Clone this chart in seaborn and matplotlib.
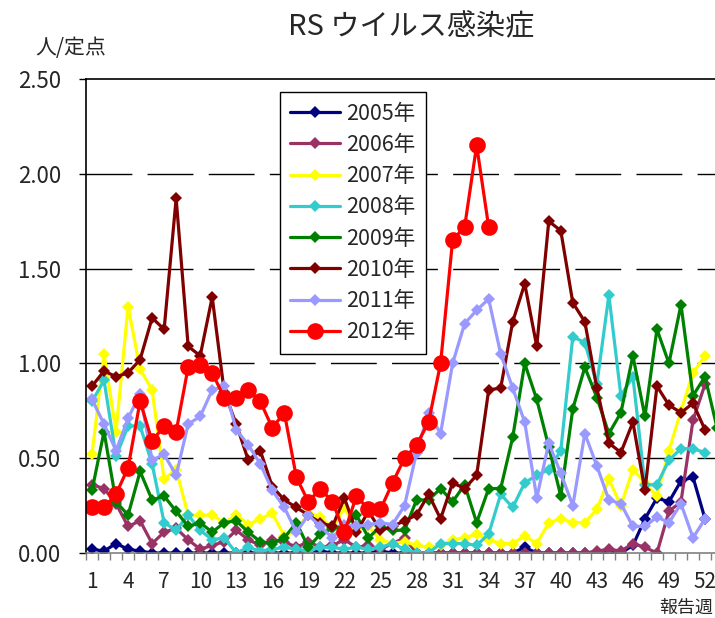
import numpy as np
import pandas as pd
import seaborn as sns
import matplotlib.pyplot as plt
from matplotlib.ticker import FixedLocator, FormatStrFormatter

# weekly values (人/定点)
y2005 = [0.02, 0.01, 0.05, 0.02, 0.01, 0, 0, 0, 0, 0,
         0, 0, 0, 0, 0, 0, 0, 0, 0, 0.01,
         0, 0, 0, 0, 0.01, 0, 0, 0, 0, 0,
         0, 0, 0, 0, 0, 0, 0.03, 0, 0, 0,
         0, 0, 0, 0, 0, 0.04, 0.18, 0.29, 0.27, 0.38,
         0.40, 0.18]
y2006 = [0.36, 0.34, 0.26, 0.14, 0.17, 0.05, 0.11, 0.13, 0.07, 0.02,
         0.04, 0.06, 0.12, 0.07, 0.04, 0.07, 0.06, 0.03, 0.06, 0.03,
         0.04, 0.07, 0.03, 0.04, 0.02, 0.05, 0.08, 0, 0, 0,
         0, 0, 0, 0, 0, 0, 0, 0, 0, 0,
         0, 0, 0.01, 0.02, 0.01, 0.05, 0.03, 0, 0.22, 0.27,
         0.70, 0.89]
y2007 = [0.52, 1.05, 0.64, 1.30, 0.97, 0.86, 0.39, 0.44, 0.20, 0.20,
         0.20, 0.16, 0.20, 0.15, 0.18, 0.21, 0.09, 0.12, 0.21, 0.19,
         0.13, 0.24, 0.12, 0.14, 0.07, 0.05, 0.06, 0.04, 0.03, 0.04,
         0.07, 0.08, 0.10, 0.07, 0.05, 0.05, 0.09, 0.05, 0.16, 0.18,
         0.16, 0.16, 0.23, 0.39, 0.25, 0.44, 0.37, 0.30, 0.54, 0.75,
         0.95, 1.04]
y2008 = [0.80, 0.91, 0.51, 0.67, 0.67, 0.47, 0.16, 0.12, 0.20, 0.12,
         0.07, 0.08, 0.00, 0.03, 0.01, 0.02, 0.03, 0.02, 0.01, 0.03,
         0.03, 0.02, 0.03, 0.02, 0.03, 0.05, 0.02, 0.00, 0.00, 0.05,
         0.05, 0.05, 0.04, 0.10, 0.31, 0.24, 0.37, 0.41, 0.44, 0.54,
         1.14, 1.11, 0.89, 1.36, 0.83, 0.93, 0.36, 0.36, 0.49, 0.55,
         0.55, 0.53]
y2009 = [0.33, 0.64, 0.27, 0.20, 0.43, 0.28, 0.30, 0.22, 0.14, 0.16,
         0.11, 0.16, 0.17, 0.11, 0.06, 0.05, 0.08, 0.16, 0.03, 0.10,
         0.13, 0.14, 0.20, 0.08, 0.14, 0.12, 0.12, 0.28, 0.28, 0.34,
         0.27, 0.36, 0.16, 0.34, 0.34, 0.61, 1.00, 0.81, 0.56, 0.30,
         0.76, 0.98, 0.82, 0.63, 0.74, 1.04, 0.72, 1.18, 1.00, 1.31,
         0.83, 0.93, 0.66]
y2010 = [0.88, 0.96, 0.93, 0.95, 1.02, 1.24, 1.18, 1.87, 1.09, 1.04,
         1.35, 0.85, 0.68, 0.49, 0.54, 0.35, 0.28, 0.24, 0.20, 0.16,
         0.14, 0.29, 0.11, 0.22, 0.12, 0.14, 0.17, 0.20, 0.31, 0.18,
         0.37, 0.34, 0.41, 0.86, 0.87, 1.22, 1.42, 1.09, 1.75, 1.70,
         1.32, 1.22, 0.87, 0.58, 0.53, 0.69, 0.33, 0.88, 0.78, 0.74,
         0.79, 0.65]
y2011 = [0.81, 0.68, 0.54, 0.71, 0.84, 0.49, 0.52, 0.41, 0.68, 0.72,
         0.86, 0.88, 0.65, 0.57, 0.47, 0.33, 0.24, 0.11, 0.20, 0.14,
         0.08, 0.15, 0.14, 0.15, 0.16, 0.15, 0.25, 0.53, 0.74, 0.63,
         1.00, 1.21, 1.28, 1.34, 1.05, 0.87, 0.69, 0.29, 0.58, 0.42,
         0.25, 0.63, 0.46, 0.28, 0.26, 0.14, 0.14, 0.19, 0.16, 0.26,
         0.08, 0.18]
y2012 = [0.24, 0.24, 0.31, 0.45, 0.80, 0.59, 0.67, 0.64, 0.98, 0.99,
         0.95, 0.82, 0.82, 0.86, 0.80, 0.66, 0.74, 0.40, 0.27, 0.34,
         0.27, 0.11, 0.30, 0.23, 0.23, 0.37, 0.50, 0.57, 0.69, 1.00,
         1.65, 1.72, 2.15, 1.72]

years = ["2005年", "2006年", "2007年", "2008年", "2009年", "2010年", "2011年", "2012年"]
series = [y2005, y2006, y2007, y2008, y2009, y2010, y2011, y2012]
colors = ["#000080", "#993366", "#FFFF00", "#33CCCC", "#008000", "#800000", "#9999FF", "#FF0000"]
tick_weeks = list(range(1, 53, 3))

rows = []
for name, vals in zip(years, series):
    for i, v in enumerate(vals):
        rows.append({"year": name, "week": i + 1, "value": v})
df = pd.DataFrame(rows)

sns.set_theme(style="white")
plt.rcParams["font.family"] = ["Noto Sans CJK JP", "DejaVu Sans"]

fig = plt.figure(figsize=(7.15, 6.18), dpi=100)
ax = fig.add_axes([86 / 715, 65 / 618, 1 - 86 / 715, 474 / 618])

for name, c in zip(years, colors):
    sub = df[df["year"] == name]
    big = name == "2012年"
    sns.lineplot(data=sub, x="week", y="value", ax=ax, color=c, label=name,
                 linewidth=2.3, marker="o" if big else "D",
                 markersize=12 if big else 6.0, markeredgewidth=0)

ax.set_xlim(0.5, 52.83)
ax.set_ylim(0, 2.5)

# dashed gridlines
for g in [0.5, 1.0, 1.5, 2.0]:
    ax.axhline(g, color="black", linewidth=1, dashes=(33, 11), zorder=0)

ax.set_yticks([0, 0.5, 1.0, 1.5, 2.0, 2.5])
ax.yaxis.set_major_formatter(FormatStrFormatter("%.2f"))
ax.set_xticks(tick_weeks)
ax.set_xticklabels([str(w) for w in tick_weeks])
ax.xaxis.set_minor_locator(FixedLocator(np.arange(0.5, 53.5, 1)))
ax.tick_params(axis="x", which="major", length=0, pad=13, labelsize=15)
ax.tick_params(axis="x", which="minor", bottom=True, length=5, color="#808080", width=1)
ax.tick_params(axis="y", which="major", left=True, length=5, width=1, color="black",
               pad=13, labelsize=16)
ax.set_xlabel("")
ax.set_ylabel("")

for s in ["top", "left"]:
    ax.spines[s].set_color("black")
    ax.spines[s].set_linewidth(1.2)
ax.spines["bottom"].set_color("#808080")
ax.spines["bottom"].set_linewidth(1.2)
ax.spines["right"].set_visible(False)

leg = ax.legend(loc="upper left", bbox_to_anchor=(0.308, 0.973), borderaxespad=0,
                frameon=True, fancybox=False, framealpha=1, edgecolor="black",
                fontsize=15.5, handlelength=2.3, labelspacing=0.43, borderpad=0.5,
                handletextpad=0.3)
leg.get_frame().set_linewidth(1)

fig.text(411 / 715, 1 - 27 / 618, "RS ウイルス感染症", ha="center", va="center", fontsize=21)
fig.text(35 / 715, 1 - 48 / 618, "人/定点", ha="left", va="center", fontsize=15)
fig.text(713 / 715, 1 - 608 / 618, "報告週", ha="right", va="center", fontsize=13)

fig.savefig("out.png", dpi=100, facecolor="white")
